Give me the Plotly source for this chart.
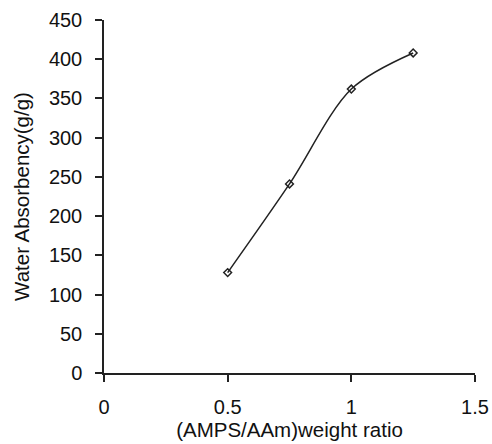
import plotly.graph_objects as go

ratio = [0.5, 0.75, 1.0, 1.25]
absorbency = [128, 241, 362, 408]

fig = go.Figure()
fig.add_trace(go.Scatter(
    x=ratio, y=absorbency, mode="lines+markers",
    line=dict(color="#222222", width=1.5, shape="spline", smoothing=0.9),
    marker=dict(symbol="diamond-open", size=6, color="#222222", line=dict(width=1.5)),
    showlegend=False,
))
font = dict(family="Liberation Sans, Arial, sans-serif", color="#111111")
fig.update_layout(
    width=492, height=444,
    margin=dict(l=104, r=17, t=20, b=71),
    plot_bgcolor="white", paper_bgcolor="white",
    font=font,
)
fig.update_xaxes(
    range=[0, 1.5], tickvals=[0, 0.5, 1, 1.5], ticktext=["0", "0.5", "1", "1.5"],
    showgrid=False, zeroline=False, showline=True, linecolor="#222222", linewidth=1.5,
    ticks="outside", ticklen=7, tickwidth=1.5, tickcolor="#222222",
    tickfont=dict(size=20), ticklabelstandoff=8, automargin=False,
    title=dict(text="(AMPS/AAm)weight ratio", font=dict(size=20.5), standoff=3),
)
fig.update_yaxes(
    range=[0, 450], tickvals=list(range(0, 451, 50)),
    showgrid=False, zeroline=False, showline=True, linecolor="#222222", linewidth=1.5,
    ticks="outside", ticklen=7, tickwidth=1.5, tickcolor="#222222",
    tickfont=dict(size=20), ticklabelstandoff=9, automargin=False,
    title=dict(text="Water Absorbency(g/g)", font=dict(size=20.5), standoff=14),
)
fig.write_html("out.html")
